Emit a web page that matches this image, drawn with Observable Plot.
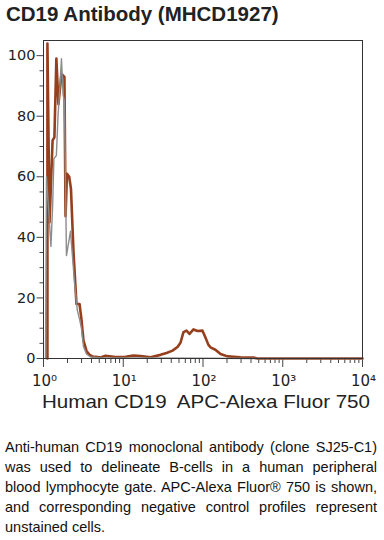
<!DOCTYPE html>
<html>
<head>
<meta charset="utf-8">
<script src="https://cdn.jsdelivr.net/npm/d3@7"></script>
<script src="https://cdn.jsdelivr.net/npm/@observablehq/plot@0.6"></script>
<style>
  html, body { margin: 0; padding: 0; background: #fff; width: 384px; height: 540px; overflow: hidden; }
  #title { position: absolute; left: 6px; top: 2px; line-height: 24px; font-family: "Liberation Sans", Arial, sans-serif; font-weight: bold; font-size: 20.5px; color: #222; white-space: nowrap; }
  #chart { position: absolute; left: 0; top: 30px; width: 384px; height: 390px; }
  #caption { position: absolute; left: 5px; top: 437px; width: 372px; font-family: "Liberation Sans", Arial, sans-serif; font-size: 14.5px; line-height: 20px; color: #111; }
  #caption div { text-align: justify; text-align-last: justify; }
  #caption div.last { text-align: left; text-align-last: left; }
</style>
</head>
<body>
<div id="title"></div>
<div id="chart"></div>
<div id="caption"></div>
<script>
const titleText = "CD19 Antibody (MHCD1927)";
const xLabel = "Human CD19  APC-Alexa Fluor 750";
const captionLines = [
  "Anti-human CD19 monoclonal antibody (clone SJ25-C1)",
  "was used to delineate B-cells in a human peripheral",
  "blood lymphocyte gate. APC-Alexa Fluor® 750 is shown,",
  "and corresponding negative control profiles represent",
  "unstained cells."
];

// Stained (APC-Alexa Fluor 750) histogram
const stainedX = [1.12, 1.12, 1.19, 1.30, 1.37, 1.45, 1.54, 1.68, 1.83, 1.89,
  1.97, 2.10, 2.21, 2.38, 2.59, 2.83, 2.99, 3.17, 3.46, 3.78,
  4.24, 4.49, 5.19, 5.99, 8.0, 10.7, 13.4, 16.5, 22.0, 29.3,
  34.9, 41.5, 47.9, 52.2, 56.9, 62.1, 67.7, 76.0, 85.3, 98.6,
  107, 117, 124, 143, 166, 203, 295, 430, 482, 10000];
const stainedY = [0, 104, 45, 72, 73, 99, 84, 94, 93, 47,
  61, 60, 56, 35, 18, 18, 13, 6, 2.5, 1.2,
  0.5, 0.6, 0.3, 0.9, 0.5, 0.6, 1.0, 0.8, 0.4, 1.2,
  1.8, 2.6, 3.8, 5.2, 8.7, 9.2, 8.1, 9.6, 9.1, 9.2,
  7.0, 4.5, 3.7, 2.9, 1.5, 0.7, 0.4, 0.3, 0, 0];

// Unstained negative control histogram
const controlX = [1.06, 1.09, 1.155, 1.24, 1.30, 1.35, 1.45, 1.52, 1.59, 1.68,
  1.76, 1.83, 1.94, 2.18, 2.45, 2.65, 2.83, 2.99, 3.17, 3.46,
  3.88, 5.19, 22, 395, 10000];
const controlY = [0, 60, 50, 37, 50, 66, 67, 80, 88, 99,
  87, 85, 34, 42, 25, 16, 13, 10, 4, 1.5,
  0.5, 0.2, 0.2, 0, 0];

const xTickValues = [1, 10, 100, 1000, 10000];
const xTickLabels = ["10⁰", "10¹", "10²", "10³", "10⁴"];
const xMinorTicks = [2,3,4,5,6,7,8,9, 20,30,40,50,60,70,80,90, 200,300,400,500,600,700,800,900, 2000,3000,4000,5000,6000,7000,8000,9000];
const yTickValues = [0, 20, 40, 60, 80, 100];
const yMinorTicks = [5,10,15,25,30,35,45,50,55,65,70,75,85,90,95];

const stained = stainedX.map((x, i) => ({x, y: stainedY[i]}));
const control = controlX.map((x, i) => ({x, y: controlY[i]}));
const xTicks = xTickValues.map((v, i) => ({v, label: xTickLabels[i]}));

document.getElementById("title").textContent = titleText;
const cap = document.getElementById("caption");
captionLines.forEach((t, i) => {
  const d = document.createElement("div");
  d.textContent = t;
  if (i === captionLines.length - 1) d.className = "last";
  cap.appendChild(d);
});

const chart = Plot.plot({
  width: 384,
  height: 390,
  marginLeft: 43,
  marginRight: 22,
  marginTop: 10,
  marginBottom: 62,
  x: {type: "log", domain: [1, 10000], label: null},
  y: {domain: [0, 105], label: null},
  style: {fontFamily: "DejaVu Sans, sans-serif", fontSize: "14px", color: "#333", background: "transparent", overflow: "visible"},
  marks: [
    Plot.axisY(yMinorTicks, {tickSize: 3.5, tickFormat: () => "", stroke: "#444"}),
    Plot.axisY(yTickValues, {tickSize: 6.5, tickPadding: 1.5, stroke: "#444", fill: "#222", fontSize: 14.5}),
    Plot.axisX(xMinorTicks, {tickSize: 5, tickFormat: () => "", stroke: "#444"}),
    Plot.axisX(xTickValues, {tickSize: 9, tickFormat: () => "", stroke: "#444"}),
    Plot.text(xTicks, {x: "v", text: "label", frameAnchor: "bottom", lineAnchor: "bottom", dy: 27.5, dx: 1, textAnchor: "middle", fontSize: 15, fill: "#222"}),
    Plot.text([xLabel], {frameAnchor: "bottom", lineAnchor: "bottom", dy: 49, dx: 3, fontSize: 18.5, fontFamily: "Liberation Sans, Arial, sans-serif", fill: "#222"}),
    Plot.line(stained, {x: "x", y: "y", stroke: "#963f1c", strokeWidth: 2.6, strokeLinejoin: "round"}),
    Plot.line(control, {x: "x", y: "y", stroke: "#8c8c8c", strokeWidth: 1.4, strokeLinejoin: "round"}),
    Plot.frame({stroke: "#333", strokeWidth: 1})
  ]
});
document.getElementById("chart").appendChild(chart);
d3.select(chart).selectAll("text").filter(function() { return this.textContent === xLabel; })
  .attr("textLength", 328).attr("lengthAdjust", "spacingAndGlyphs");
</script>
</body>
</html>
